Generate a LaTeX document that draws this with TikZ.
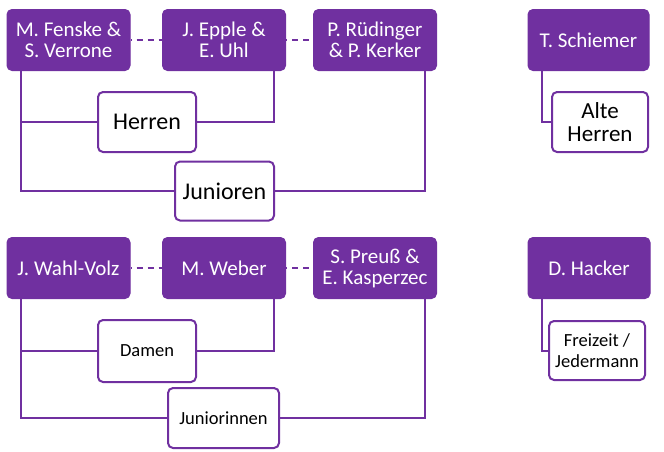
\documentclass[tikz,border=0pt]{standalone}
\usepackage{fontspec}
\setmainfont{Carlito}
\usepackage{xcolor}
\usepackage{tikz}
\definecolor{lila}{HTML}{7030A0}

\begin{document}
\begin{tikzpicture}[
  x = 1pt, y = -1pt,
  leiter/.style = {draw = lila, fill = lila, text = white, rounded corners = 5pt,
    line width = 1pt, minimum width = 123pt, minimum height = 61pt, inner sep = 0pt,
    align = center, font = \fontsize{21}{21}\selectfont},
  team/.style = {draw = lila, fill = white, text = black, rounded corners = 5pt,
    line width = 2pt, minimum width = 98pt, minimum height = 60pt, inner sep = 0pt,
    align = center},
  gross/.style = {font = \fontsize{24}{23}\selectfont},
  klein/.style = {font = \fontsize{18.5}{20.5}\selectfont},
  verbindung/.style = {draw = lila, line width = 2pt},
  lose/.style = {verbindung, dash pattern = on 6pt off 5pt, dash phase = -6pt}
  ]
  \useasboundingbox (0,0) rectangle (664,451);
  % Maenner
  \node[leiter] (fenske) at (68.5,40) {M. Fenske \&\\S. Verrone};
  \node[leiter] (epple) at (224,40) {J. Epple \&\\E. Uhl};
  \node[leiter] (kerker) at (375,40) {P. Rüdinger\\\& P. Kerker};
  \node[leiter, minimum width = 121pt] (schiemer) at (588.5,40) {T. Schiemer};
  \node[team, gross] (herren) at (147,122) {Herren};
  \node[team, gross, minimum width = 99pt, minimum height = 59pt] (junioren) at (224.5,191) {Junioren};
  \node[team, minimum width = 96pt, font = \fontsize{23}{23}\selectfont] (alteherren) at (600,122) {Alte\\Herren};
  % Frauen
  \node[leiter] (wahlvolz) at (68.5,268) {J. Wahl-Volz};
  \node[leiter] (weber) at (224,268) {M. Weber};
  \node[leiter] (preuss) at (375,268) {S. Preuß \&\\E. Kasperzec};
  \node[leiter, minimum width = 122pt] (hacker) at (589,268) {D. Hacker};
  \node[team, klein, minimum height = 62pt] (damen) at (147,351) {Damen};
  \node[team, klein, minimum width = 111pt] (juniorinnen) at (223.5,418) {Juniorinnen};
  \node[team, klein, minimum width = 96pt, minimum height = 59pt] (freizeit) at (597,350.5) {Freizeit /\\Jedermann};
  % Linien oben
  \draw[lose] (fenske) -- (epple);
  \draw[lose] (epple) -- (kerker);
  \draw[verbindung] ([xshift = 14pt]fenske.south west) |- (herren.west);
  \draw[verbindung] ([xshift = 14pt]fenske.south west) |- (junioren.west);
  \draw[verbindung] ([xshift = -12pt]epple.south east) |- (herren.east);
  \draw[verbindung] ([xshift = -12pt]kerker.south east) |- (junioren.east);
  \draw[verbindung] ([xshift = 14pt]schiemer.south west) |- (alteherren.west);
  % Linien unten
  \draw[lose] (wahlvolz) -- (weber);
  \draw[lose] (weber) -- (preuss);
  \draw[verbindung] ([xshift = 14pt]wahlvolz.south west) |- (damen.west);
  \draw[verbindung] ([xshift = 14pt]wahlvolz.south west) |- (juniorinnen.west);
  \draw[verbindung] ([xshift = -12pt]weber.south east) |- (damen.east);
  \draw[verbindung] ([xshift = -12pt]preuss.south east) |- (juniorinnen.east);
  \draw[verbindung] ([xshift = 14pt]hacker.south west) |- (freizeit.west);
\end{tikzpicture}
\end{document}
